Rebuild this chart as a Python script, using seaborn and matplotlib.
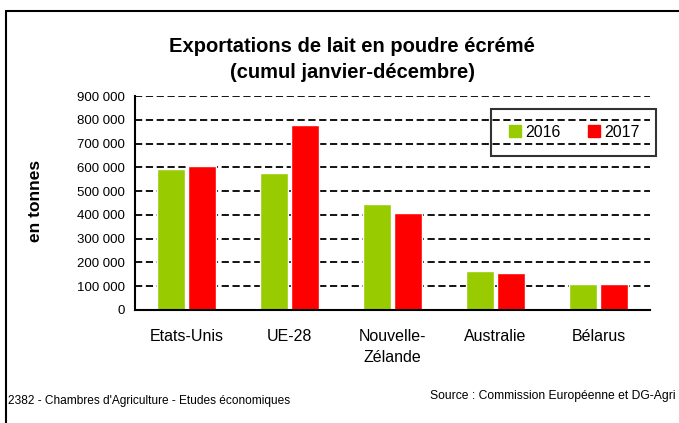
import matplotlib
matplotlib.use("Agg")
import matplotlib.pyplot as plt
from matplotlib.lines import Line2D
import seaborn as sns
import pandas as pd

# valeurs (tonnes)
pays = ["Etats-Unis", "UE-28", "Nouvelle-\nZélande", "Australie", "Bélarus"]
exports_2016 = [591000, 576000, 444000, 164000, 111000]
exports_2017 = [606000, 777000, 406000, 155000, 111000]
annees = ["2016", "2017"]
yticks = [0, 100000, 200000, 300000, 400000, 500000, 600000, 700000, 800000, 900000]

df = pd.DataFrame({
    "pays": pays * 2,
    "annee": [annees[0]] * len(pays) + [annees[1]] * len(pays),
    "tonnes": exports_2016 + exports_2017,
})

sns.set_style("white")
plt.rcParams['font.family'] = ["Liberation Sans", "DejaVu Sans"]
plt.rcParams['text.color'] = "black"
plt.rcParams['axes.labelcolor'] = "black"
plt.rcParams['xtick.color'] = "black"
plt.rcParams['ytick.color'] = "black"

fig = plt.figure(figsize=(6.79, 4.23), dpi=100)
ax = fig.add_axes([135 / 679, 1 - 310 / 423, 515 / 679, 214 / 423])

sns.barplot(data=df, x="pays", y="tonnes", hue="annee", order=pays,
            palette={"2016": "#99CC00", "2017": "#FF0000"},
            width=0.6, gap=0.08, saturation=1, ax=ax, legend=False)

ax.set_ylim(0, 900000)
ax.set_xlim(-0.5, len(pays) - 0.5)
ax.set_yticks(yticks)
ax.set_yticklabels([f"{v:,}".replace(",", " ") for v in yticks], fontsize=9.5)
for v in yticks[1:]:
    ax.axhline(v, color="black", lw=1.3, ls=(0, (4, 2)), zorder=0)

ax.set_xticks([i + 0.5 for i in range(len(pays) - 1)], minor=True)
ax.set_xticks(range(len(pays)))
ax.set_xticklabels(pays, fontsize=11.5, linespacing=1.5)
ax.tick_params(axis="x", which="major", length=0, pad=14)
ax.tick_params(axis="x", which="minor", length=5, width=1.3, direction="out")
ax.tick_params(axis="y", length=4, width=1.3, direction="out", pad=3)

for s in ["top", "right"]:
    ax.spines[s].set_visible(False)
for s in ["left", "bottom"]:
    ax.spines[s].set_color("black")
    ax.spines[s].set_linewidth(1.5)

ax.set_xlabel("")
ax.set_ylabel("en tonnes", fontsize=12.5, fontweight="bold")
ax.yaxis.set_label_coords((43 - 135) / 515, (310 - 201) / 214)

fig.text(352 / 679, 1 - 47 / 423, "Exportations de lait en poudre écrémé",
         ha="center", va="center", fontsize=14.5, fontweight="bold")
fig.text(352 / 679, 1 - 73 / 423, "(cumul janvier-décembre)",
         ha="center", va="center", fontsize=14.5, fontweight="bold")

handles = [Line2D([], [], marker="s", ls="", markersize=8, color=c)
           for c in ["#99CC00", "#FF0000"]]
leg = ax.legend(handles, annees, loc="upper right", ncol=2, fontsize=11.5,
                bbox_to_anchor=(656 / 679, 1 - 109 / 423), bbox_transform=fig.transFigure,
                frameon=True, fancybox=False, edgecolor="black",
                borderpad=1.0, handlelength=1.0, handletextpad=0.15, columnspacing=1.6,
                borderaxespad=0)
leg.get_frame().set_linewidth(1.5)
leg.get_frame().set_facecolor("none")

fig.text(8 / 679, 1 - 401 / 423, "2382 - Chambres d'Agriculture - Etudes économiques",
         ha="left", va="center", fontsize=8.6)
fig.text(676 / 679, 1 - 396 / 423, "Source : Commission Européenne et DG-Agri",
         ha="right", va="center", fontsize=8.7)

# cadre extérieur
fig.add_artist(Line2D([6 / 679, 6 / 679], [0, 1 - 11 / 423], color="black", lw=1.5,
                      transform=fig.transFigure))
fig.add_artist(Line2D([6 / 679, 1], [1 - 11 / 423, 1 - 11 / 423], color="black", lw=1.5,
                      transform=fig.transFigure))

fig.savefig("out.png", dpi=100)
plt.close()
